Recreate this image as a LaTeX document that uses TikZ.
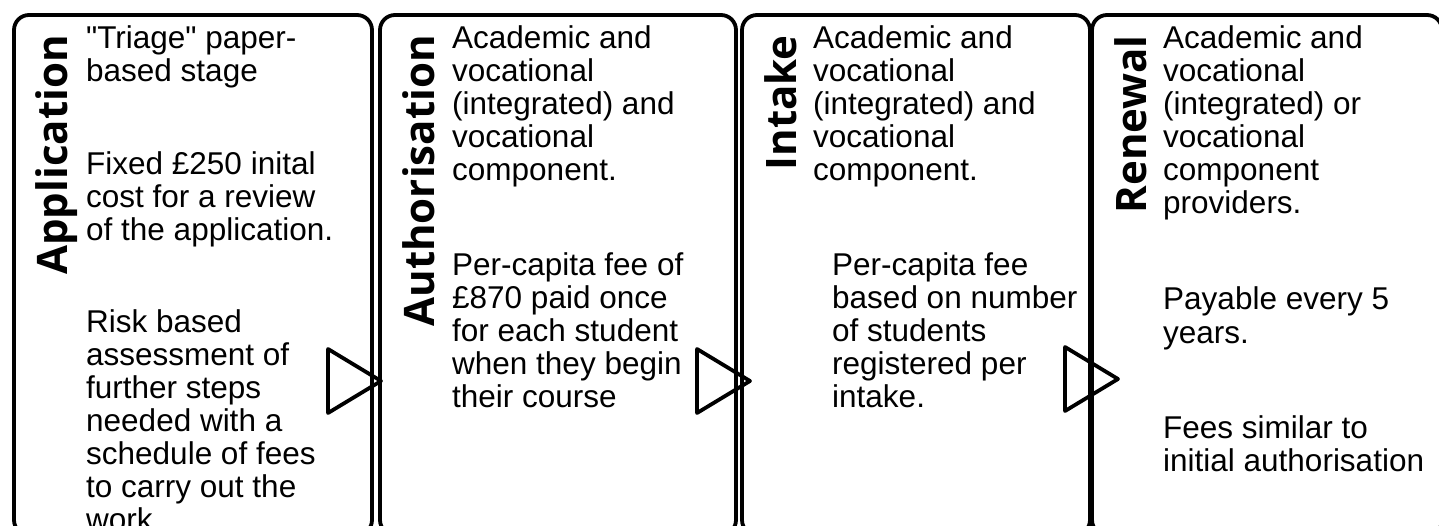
\documentclass[tikz,border=0pt]{standalone}
\usepackage{fontspec}
\setmainfont{Liberation Sans}[Ligatures=TeXOff]
\newfontfamily\headfont{Open Sans}

\begin{document}
\begin{tikzpicture}[x=1pt,y=-1pt,
    stage/.style={draw, line width=3.8pt, rounded corners=15pt, minimum width=#1,
        minimum height=520pt, inner sep=0pt, outer sep=0pt, anchor=north west},
    title/.style={font=\headfont\bfseries\fontsize{42}{44}\selectfont, rotate=90,
        anchor=base east, inner sep=0pt},
    body/.style={font=\fontsize{31.5}{33}\selectfont, align=left, anchor=base west, inner sep=0pt},
    marker/.style={line width=3.8pt, line join=round}]
    \clip (0,0) rectangle (1439,526);

    % stage boxes
    \node[stage=358pt] (app) at (14,15) {};
    \node[stage=356pt] (auth) at (380,15) {};
    \node[stage=348pt] (intake) at (742,15) {};
    \node[stage=350pt] (renewal) at (1092,15) {};

    % titles
    \node[title] (appT) at (67,35) {Application};
    \node[title] (authT) at (434,35) {Authorisation};
    \node[title] (intakeT) at (796,35) {Intake};
    \node[title] (renewalT) at (1146,35) {Renewal};

    % texts (placed at the baseline of their last line)
    \node[body] (app1) at (86,82) {"Triage" paper-\\based stage};
    \node[body] (app2) at (86,241) {Fixed £250 inital\\cost for a review\\of the application.};
    \node[body] (app3) at (86,530) {Risk based\\assessment of\\further steps\\needed with a\\schedule of fees\\to carry out the\\work.};

    \node[body] (auth1) at (452,181) {Academic and\\vocational\\(integrated) and\\vocational\\component.};
    \node[body] (auth2) at (452,407) {Per-capita fee of\\£870 paid once\\for each student\\when they begin\\their course};

    \node[body] (intake1) at (813,181) {Academic and\\vocational\\(integrated) and\\vocational\\component.};
    \node[body] (intake2) at (832,407) {Per-capita fee\\based on number\\of students\\registered per\\intake.};

    \node[body] (renewal1) at (1163,214) {Academic and\\vocational\\(integrated) or\\vocational\\component\\providers.};
    \node[body] (renewal2) at (1163,343) {Payable every 5\\years.};
    \node[body] (renewal3) at (1163,471) {Fees similar to\\initial authorisation};

    % arrow heads
    \coordinate (tip1) at (381,381);
    \coordinate (tip2) at (750,381);
    \coordinate (tip3) at (1118,379);
    \foreach \t in {tip1,tip2,tip3}
        \draw[marker] (\t) -- ++(-53,-32) -- ++(0,64) -- cycle;
\end{tikzpicture}
\end{document}
